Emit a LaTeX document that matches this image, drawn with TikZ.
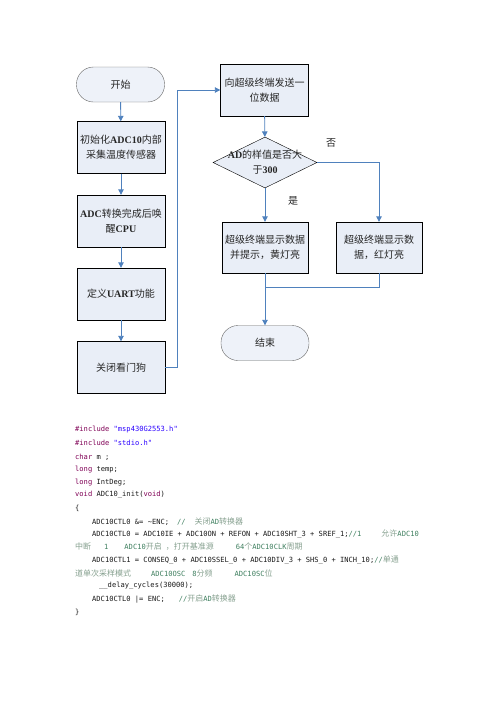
\documentclass[tikz,border=0pt]{standalone}
\usepackage{fontspec}
\setmainfont{Liberation Serif}
\setmonofont{DejaVu Sans Mono}
\newfontfamily\cjk{Noto Sans CJK SC}
\usepackage{tikz}
\usetikzlibrary{arrows.meta, shapes.geometric}
\usepackage{xcolor}

\definecolor{flowblue}{HTML}{4F81BD}
\definecolor{boxfill}{HTML}{E9EEF7}
\definecolor{termfill}{HTML}{EEF2F9}
\definecolor{kwcol}{HTML}{7F0055}
\definecolor{strcol}{HTML}{2A00FF}
\definecolor{cmtcol}{HTML}{3F7F5F}
\definecolor{cmtzhcol}{HTML}{86A08F}

\newcommand{\lat}[1]{{\rmfamily\bfseries #1}}
\newcommand{\kw}[1]{\textcolor{kwcol}{#1}}
\newcommand{\codestr}[1]{\textcolor{strcol}{#1}}
\newcommand{\cmt}[1]{\textcolor{cmtcol}{#1}}
\newcommand{\cmtzh}[1]{{\cjk\fontsize{8}{9}\selectfont\color{cmtzhcol}#1}}

\begin{document}
\begin{tikzpicture}[x=1pt, y=-1pt, >={Triangle[width=5.5pt,length=5.5pt]},
  proc/.style={draw=black, fill=boxfill, minimum width=88pt, minimum height=52pt,
    align=center, inner sep=1pt, text=black!85, font=\cjk\fontsize{10}{15}\selectfont},
  term/.style={draw=black!60, fill=termfill, rounded corners=17pt, minimum width=88pt,
    minimum height=35pt, text=black!85, font=\cjk\fontsize{10}{15}\selectfont},
  decision/.style={diamond, draw=black, fill=boxfill, minimum width=104pt,
    minimum height=51pt, inner sep=0pt, aspect=2},
  flow/.style={draw=flowblue, line width=0.9pt},
  code/.style={anchor=west, inner sep=0pt, text=black!90, font=\ttfamily\fontsize{7.1}{8}\selectfont}]
  \useasboundingbox (0,0) rectangle (496,702);

  % Left column of the flow chart
  \node[term] (start) at (120.5,84.5) {开始};
  \node[proc] (init) at (121,147.5) {初始化\lat{ADC10}内部\\采集温度传感器};
  \node[proc] (wake) at (121,221) {\lat{ADC}转换完成后唤\\醒\lat{CPU}};
  \node[proc] (uart) at (121,294) {定义\lat{UART}功能};
  \node[proc] (wdog) at (121,367.5) {关闭看门狗};

  % Right column
  \node[proc] (send) at (264.5,90) {向超级终端发送一\\位数据};
  \node[decision] (test) at (265,162.5) {};
  \node[align=center, inner sep=0pt, text=black!85, font=\cjk\fontsize{10}{15}\selectfont]
    (testtxt) at (test) {\lat{AD}的样值是否大\\于\lat{300}};
  \node[proc, minimum width=86pt, minimum height=51pt] (yellow) at (265,247.5) {超级终端显示数据\\并提示，黄灯亮};
  \node[proc, minimum width=86pt, minimum height=51pt] (red) at (379,247.5) {超级终端显示数\\据，红灯亮};
  \node[term] (stop) at (265,343) {结束};
  \coordinate (merge) at (265,287);

  % Connectors
  \draw[flow, ->] (start) -- (init);
  \draw[flow, ->] (init) -- (wake);
  \draw[flow, ->] (wake) -- (uart);
  \draw[flow, ->] (uart) -- (wdog);
  \draw[flow, ->] (wdog.east) -- ++(12,0) |- (send.west);
  \draw[flow, ->] (send) -- (test);
  \draw[flow, ->] (test) -- (yellow);
  \draw[flow, ->] (test.east) -| (red.north);
  \draw[flow] (yellow) -- (merge);
  \draw[flow] (red.south) |- (merge);
  \draw[flow, ->] (merge) -- (stop);

  % Labels
  \node[font=\cjk\fontsize{10}{12}\selectfont, text=black!85] (nolbl) at (331,143) {否};
  \node[font=\cjk\fontsize{10}{12}\selectfont, text=black!85] (yeslbl) at (293,201) {是};

  % Code listing
  \node[code] (inc1) at (75,430) {\kw{\#include} \codestr{"msp430G2553.h"}};
  \node[code] (inc2) at (75,443) {\kw{\#include} \codestr{"stdio.h"}};
  \node[code] (varm) at (75,457) {\kw{char} m ;};
  \node[code] (vart) at (75,470) {\kw{long} temp;};
  \node[code] (vari) at (75,483) {\kw{long} IntDeg;};
  \node[code] (fhead) at (75,495) {\kw{void} ADC10\_init(\kw{void})};
  \node[code] (bopen) at (75,508) {\{};
  \node[code] (ln1) at (92,522) {ADC10CTL0 \&= \textasciitilde ENC;\hspace{8pt}\cmt{//\hspace{9pt}\cmtzh{关闭}AD\cmtzh{转换器}}};
  \node[code] (ln2) at (92,534) {ADC10CTL0 = ADC10IE + ADC10ON + REFON + ADC10SHT\_3 + SREF\_1;\cmt{//1\hspace{20pt}\cmtzh{允许}ADC10}};
  \node[code] (ln3) at (75,547) {\cmt{\cmtzh{中断}\hspace{13pt}1\hspace{16pt}ADC10\cmtzh{开启}\hspace{4pt}\cmtzh{，打开基准源}\hspace{22pt}64\cmtzh{个}ADC10CLK\cmtzh{周期}}};
  \node[code] (ln4) at (92,560) {ADC10CTL1 = CONSEQ\_0 + ADC10SSEL\_0 + ADC10DIV\_3 + SHS\_0 + INCH\_10;\cmt{//\cmtzh{单通}}};
  \node[code] (ln5) at (75,573) {\cmt{\cmtzh{道单次采样模式}\hspace{20pt}ADC10OSC\hspace{7pt}8\cmtzh{分频}\hspace{22pt}ADC10SC\cmtzh{位}}};
  \node[code] (ln6) at (99,586) {\_\_delay\_cycles(30000);};
  \node[code] (ln7) at (92,599) {ADC10CTL0 |= ENC;\hspace{14pt}\cmt{//\cmtzh{开启}AD\cmtzh{转换器}}};
  \node[code] (bclose) at (75,612) {\}};
\end{tikzpicture}
\end{document}
